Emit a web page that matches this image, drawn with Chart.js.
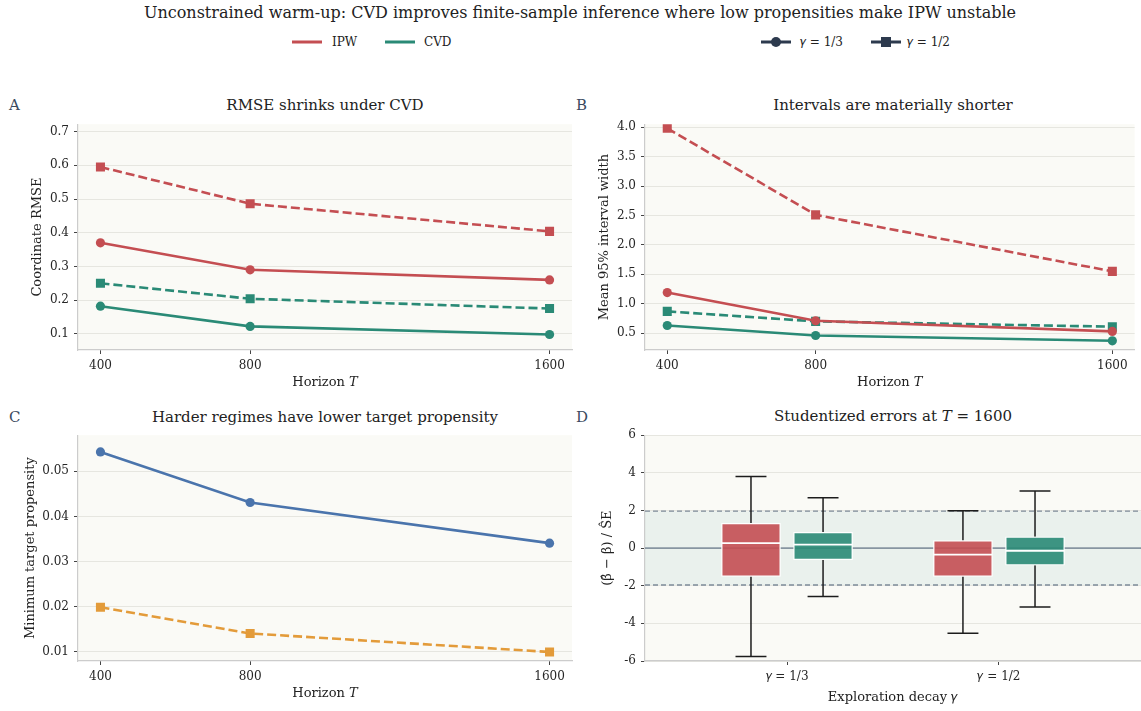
<!DOCTYPE html>
<html><head><meta charset="utf-8">
<script src="https://cdn.jsdelivr.net/npm/chart.js@4.4.1/dist/chart.umd.min.js"></script>
<style>
body{margin:0;background:#fff;width:1141px;height:711px;position:relative;overflow:hidden;font-family:'DejaVu Serif',serif;color:#222}
canvas{position:absolute}
.t{position:absolute;white-space:nowrap;transform:translate(-50%,-50%);line-height:1}
.l{position:absolute;white-space:nowrap;transform:translate(0,-50%);line-height:1}
.ttl{font-size:16px}
.pt{font-size:15px}
.let{font-size:15px;color:#3b4a60}
.leg{font-size:12px}
.ln{position:absolute;height:3px;transform:translateY(-50%)}
.mk{position:absolute;transform:translate(-50%,-50%)}
</style></head><body>
<div class="t ttl" style="left:580px;top:13px">Unconstrained warm-up: CVD improves finite-sample inference where low propensities make IPW unstable</div>

<div class="ln" style="left:292px;top:42px;width:30px;background:#c44e52"></div>
<div class="l leg" style="left:332px;top:42px">IPW</div>
<div class="ln" style="left:385px;top:42px;width:30px;background:#2a8a76"></div>
<div class="l leg" style="left:424px;top:42px">CVD</div>
<div class="ln" style="left:761px;top:42px;width:30px;background:#2d3a4e"></div>
<div class="mk" style="left:776px;top:42px;width:10px;height:10px;border-radius:50%;background:#2d3a4e"></div>
<div class="l leg" style="left:800px;top:42px">𝛾 = 1/3</div>
<div class="ln" style="left:871px;top:42px;width:30px;background:#2d3a4e"></div>
<div class="mk" style="left:886px;top:42px;width:10px;height:10px;background:#2d3a4e"></div>
<div class="l leg" style="left:907px;top:42px">𝛾 = 1/2</div>

<div class="l let" style="left:9px;top:105px">A</div>
<div class="t pt" style="left:325px;top:105px">RMSE shrinks under CVD</div>
<div class="l let" style="left:576px;top:105px">B</div>
<div class="t pt" style="left:893px;top:105px">Intervals are materially shorter</div>
<div class="l let" style="left:9px;top:417px">C</div>
<div class="t pt" style="left:325px;top:417px">Harder regimes have lower target propensity</div>
<div class="l let" style="left:576px;top:417px">D</div>
<div class="t pt" style="left:893px;top:416px">Studentized errors at 𝑇 = 1600</div>

<canvas id="cA" width="580" height="293" style="left:0;top:112px"></canvas>
<canvas id="cB" width="556" height="293" style="left:585px;top:112px"></canvas>
<canvas id="cC" width="580" height="288" style="left:0;top:423px"></canvas>
<canvas id="cD" width="556" height="288" style="left:585px;top:423px"></canvas>

<script>
// ---------------- data ----------------
const horizons = [400, 800, 1600];
const horizonTicks = [400, 800, 1600];

const rmseIPW_g13 = [0.370, 0.290, 0.260];
const rmseIPW_g12 = [0.595, 0.486, 0.404];
const rmseCVD_g13 = [0.182, 0.122, 0.098];
const rmseCVD_g12 = [0.250, 0.204, 0.175];
const rmseTicks = [0.1, 0.2, 0.3, 0.4, 0.5, 0.6, 0.7];

const widthIPW_g13 = [1.19, 0.71, 0.53];
const widthIPW_g12 = [3.98, 2.51, 1.55];
const widthCVD_g13 = [0.63, 0.46, 0.37];
const widthCVD_g12 = [0.87, 0.70, 0.61];
const widthTicks = [0.5, 1.0, 1.5, 2.0, 2.5, 3.0, 3.5, 4.0];

const propensity_g13 = [0.0543, 0.0431, 0.0341];
const propensity_g12 = [0.0199, 0.0141, 0.0100];
const propTicks = [0.01, 0.02, 0.03, 0.04, 0.05];

const gammaLabels = ['𝛾 = 1/3', '𝛾 = 1/2'];
const gammaPos = [0, 1];
const ipwQ1  = [-1.51, -1.51];
const ipwMed = [0.26, -0.35];
const ipwQ3  = [1.32, 0.40];
const ipwLo  = [-5.76, -4.52];
const ipwHi  = [3.80, 1.99];
const cvdQ1  = [-0.62, -0.91];
const cvdMed = [0.18, -0.14];
const cvdQ3  = [0.84, 0.60];
const cvdLo  = [-2.57, -3.13];
const cvdHi  = [2.67, 3.04];
const studTicks = [-6, -4, -2, 0, 2, 4, 6];
const normalBand = 1.96;

// ---------------- style ----------------
const RED = '#c44e52', TEAL = '#2a8a76', BLUE = '#4a74ac', ORANGE = '#e39b3a';
const FONT = "'DejaVu Serif', serif";
const BG = '#fafaf6', GRID = '#e6e6e0', SPINE = '#cccccc', TICK = '#444';
Chart.defaults.font.family = FONT;
Chart.defaults.color = '#262626';
Chart.defaults.animation = false;

const bgPlugin = { id: 'bg', beforeDraw(chart) {
  const {ctx, chartArea: a} = chart;
  ctx.save(); ctx.fillStyle = BG; ctx.fillRect(a.left, a.top, a.right - a.left, a.bottom - a.top); ctx.restore();
}};

function pts(xs, ys) { return xs.map((x, i) => ({x, y: ys[i]})); }

function lineDs(label, ys, color, dashed) {
  return {
    label, data: pts(horizons, ys), borderColor: color, backgroundColor: color,
    borderWidth: 2.6, borderDash: dashed ? [9, 4] : [], tension: 0,
    pointStyle: dashed ? 'rect' : 'circle', pointRadius: dashed ? 6.4 : 4.6,
    pointBorderWidth: 0, pointBackgroundColor: color
  };
}

function yAxis(min, max, ticks, fmt, title, yw, titlePad) {
  return {
    type: 'linear', min, max,
    afterBuildTicks: s => { s.ticks = ticks.map(v => ({value: v})); },
    afterFit: s => { s.width = yw; },
    ticks: { callback: v => fmt(v), padding: 5, font: {size: 12}, color: '#262626' },
    grid: { color: GRID, lineWidth: 1, tickLength: 4, tickColor: TICK, tickWidth: 1 },
    border: { display: true, color: SPINE, width: 1.2 },
    title: { display: true, text: title, font: {size: 13}, padding: {top: titlePad, bottom: 0}, color: '#222' }
  };
}
function xAxis(min, max, tickVals, labelFn, title, xh, titlePadB) {
  return {
    type: 'linear', min, max, offset: false,
    afterBuildTicks: s => { s.ticks = tickVals.map(v => ({value: v})); },
    afterFit: s => { s.height = xh; },
    ticks: { callback: (v, i) => labelFn(v, i), padding: 5, font: {size: 12}, color: '#262626', maxRotation: 0 },
    grid: { drawOnChartArea: false, offset: false, tickLength: 4, tickColor: TICK, tickWidth: 1, color: GRID },
    border: { display: true, color: SPINE, width: 1.2 },
    title: { display: true, text: title, font: {size: 13}, padding: {top: 0, bottom: titlePadB}, color: '#222' }
  };
}
const baseOpts = (padTop, padRight, scales) => ({
  responsive: false, devicePixelRatio: 1, animation: false,
  layout: { padding: { left: 0, top: padTop, right: padRight, bottom: 0 } },
  plugins: { legend: { display: false }, tooltip: { enabled: false } },
  scales
});

// ---------------- Panel A ----------------
new Chart(document.getElementById('cA'), {
  type: 'line',
  data: { datasets: [
    lineDs('IPW γ=1/2', rmseIPW_g12, RED, true),
    lineDs('IPW γ=1/3', rmseIPW_g13, RED, false),
    lineDs('CVD γ=1/2', rmseCVD_g12, TEAL, true),
    lineDs('CVD γ=1/3', rmseCVD_g13, TEAL, false)
  ]},
  options: baseOpts(10, 8, {
    x: xAxis(340, 1660, horizonTicks, v => String(v), 'Horizon 𝑇', 55, 14.2),
    y: yAxis(0.052, 0.722, rmseTicks, v => v.toFixed(1), 'Coordinate RMSE', 78, 30.2)
  }),
  plugins: [bgPlugin]
});

// ---------------- Panel B ----------------
new Chart(document.getElementById('cB'), {
  type: 'line',
  data: { datasets: [
    lineDs('IPW γ=1/2', widthIPW_g12, RED, true),
    lineDs('IPW γ=1/3', widthIPW_g13, RED, false),
    lineDs('CVD γ=1/2', widthCVD_g12, TEAL, true),
    lineDs('CVD γ=1/3', widthCVD_g13, TEAL, false)
  ]},
  options: baseOpts(10, 0, {
    x: xAxis(340, 1660, horizonTicks, v => String(v), 'Horizon 𝑇', 55, 14.2),
    y: yAxis(0.214, 4.05, widthTicks, v => v.toFixed(1), 'Mean 95% interval width', 60, 12.2)
  }),
  plugins: [bgPlugin]
});

// ---------------- Panel C ----------------
new Chart(document.getElementById('cC'), {
  type: 'line',
  data: { datasets: [
    lineDs('γ=1/3', propensity_g13, BLUE, false),
    lineDs('γ=1/2', propensity_g12, ORANGE, true)
  ]},
  options: baseOpts(10, 8, {
    x: xAxis(340, 1660, horizonTicks, v => String(v), 'Horizon 𝑇', 50, 9.2),
    y: yAxis(0.008, 0.058, propTicks, v => v.toFixed(2), 'Minimum target propensity', 78, 23.2)
  }),
  plugins: [bgPlugin]
});

// ---------------- Panel D ----------------
const boxOffset = 0.17, capHalf = 0.073, medHalf = 0.138;
const XMIN = -0.67, XMAX = 1.67;
function whiskerData(pos, q1, q3, lo, hi) {
  const d = [];
  pos.forEach((p, i) => {
    d.push({x: p, y: q3[i]}, {x: p, y: hi[i]}, {x: p, y: null});
    d.push({x: p, y: q1[i]}, {x: p, y: lo[i]}, {x: p, y: null});
    d.push({x: p - capHalf, y: hi[i]}, {x: p + capHalf, y: hi[i]}, {x: p, y: null});
    d.push({x: p - capHalf, y: lo[i]}, {x: p + capHalf, y: lo[i]}, {x: p, y: null});
  });
  return d;
}
function medianData(pos, med) {
  const d = [];
  pos.forEach((p, i) => { d.push({x: p - medHalf, y: med[i]}, {x: p + medHalf, y: med[i]}, {x: p, y: null}); });
  return d;
}
const ipwPos = gammaPos.map(g => g - boxOffset);
const cvdPos = gammaPos.map(g => g + boxOffset);
const lineBase = { type: 'line', pointRadius: 0, tension: 0, spanGaps: false, fill: false };

new Chart(document.getElementById('cD'), {
  type: 'bar',
  data: { datasets: [
    { ...lineBase, label: 'band', data: [{x: XMIN, y: normalBand}, {x: XMAX, y: normalBand}],
      borderWidth: 0, fill: {value: -normalBand}, backgroundColor: 'rgba(40,140,135,0.075)', order: 20 },
    { ...lineBase, label: '+1.96', data: [{x: XMIN, y: normalBand}, {x: XMAX, y: normalBand}],
      borderColor: '#7d8a98', borderWidth: 1.3, borderDash: [5, 3], order: 19 },
    { ...lineBase, label: '-1.96', data: [{x: XMIN, y: -normalBand}, {x: XMAX, y: -normalBand}],
      borderColor: '#7d8a98', borderWidth: 1.3, borderDash: [5, 3], order: 19 },
    { ...lineBase, label: 'zero', data: [{x: XMIN, y: 0}, {x: XMAX, y: 0}],
      borderColor: '#8795a1', borderWidth: 1.6, order: 18 },
    { ...lineBase, label: 'IPW whiskers', data: whiskerData(ipwPos, ipwQ1, ipwQ3, ipwLo, ipwHi),
      borderColor: '#1c1c1c', borderWidth: 1.5, order: 10 },
    { ...lineBase, label: 'CVD whiskers', data: whiskerData(cvdPos, cvdQ1, cvdQ3, cvdLo, cvdHi),
      borderColor: '#1c1c1c', borderWidth: 1.5, order: 10 },
    { type: 'bar', label: 'IPW', data: ipwPos.map((p, i) => ({x: p, y: [ipwQ1[i], ipwQ3[i]]})),
      backgroundColor: 'rgba(196,78,82,0.9)', borderColor: '#ffffff', borderWidth: 1.3, borderSkipped: false,
      barThickness: 59, grouped: false, order: 5 },
    { type: 'bar', label: 'CVD', data: cvdPos.map((p, i) => ({x: p, y: [cvdQ1[i], cvdQ3[i]]})),
      backgroundColor: 'rgba(42,138,118,0.9)', borderColor: '#ffffff', borderWidth: 1.3, borderSkipped: false,
      barThickness: 59, grouped: false, order: 5 },
    { ...lineBase, label: 'IPW median', data: medianData(ipwPos, ipwMed), borderColor: '#ffffff', borderWidth: 1.8, order: 1 },
    { ...lineBase, label: 'CVD median', data: medianData(cvdPos, cvdMed), borderColor: '#ffffff', borderWidth: 1.8, order: 1 }
  ]},
  options: baseOpts(10, 0, {
    x: xAxis(XMIN, XMAX, gammaPos, (v, i) => gammaLabels[i], 'Exploration decay 𝛾', 50, 5.5),
    y: yAxis(-6, 6, studTicks, v => String(v), '(β̂ − β) / ŜE', 60, 15.2)
  }),
  plugins: [bgPlugin]
});
</script>
</body></html>
